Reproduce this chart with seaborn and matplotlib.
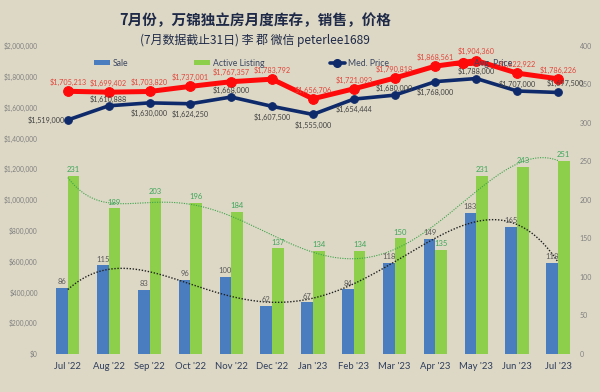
import numpy as np
import pandas as pd
import matplotlib
matplotlib.use("Agg")
import matplotlib.pyplot as plt
from matplotlib.lines import Line2D
from matplotlib.patches import Patch
import seaborn as sns

# ---------------- data ----------------
months = ["Jul '22", "Aug '22", "Sep '22", "Oct '22", "Nov '22", "Dec '22", "Jan '23",
          "Feb '23", "Mar '23", "Apr '23", "May '23", "Jun '23", "Jul '23"]
sale = [86, 115, 83, 96, 100, 62, 67, 84, 118, 149, 183, 165, 118]
listing = [231, 189, 203, 196, 184, 137, 134, 134, 150, 135, 231, 243, 251]
med_price = [1519000, 1610888, 1630000, 1624250, 1668000, 1607500, 1555000,
             1654444, 1680000, 1768000, 1788000, 1707000, 1697500]
avg_price = [1705213, 1699402, 1703820, 1737001, 1767357, 1783792, 1656706,
             1721093, 1790818, 1868561, 1904360, 1822922, 1786226]
left_ticks = list(range(0, 2000001, 200000))
right_ticks = list(range(0, 401, 50))

title = "7月份，万锦独立房月度库存，销售，价格"
subtitle = "(7月数据截止31日) 李 郡 微信 peterlee1689"

# label placement for median price labels (style only)
med_place = ["left", "above", "below", "below", "above", "below", "below",
             "below", "above", "below", "above", "above", "above_right"]

# ---------------- style ----------------
BG = "#DDD8C5"
BLUE = "#4A7DBF"
GREEN = "#8DCF4A"
NAVY = "#0E2A6B"
RED = "#FF0A0A"

sns.set_style("white")
plt.rcParams["font.family"] = ["Lato", "Noto Sans CJK SC", "DejaVu Sans"]

fig = plt.figure(figsize=(6.0, 3.92), dpi=100, facecolor=BG)
ax = fig.add_axes([0.079, 0.097, 0.885, 0.786])
ax2 = ax.twinx()
ax.set_facecolor("none")
ax2.set_facecolor("none")
ax.set_zorder(3)
ax2.set_zorder(2)

x = np.arange(len(months))

# bars (count axis)
df_bars = pd.DataFrame({
    "month": months * 2,
    "count": sale + listing,
    "series": ["Sale"] * len(months) + ["Active Listing"] * len(months),
})
sns.barplot(data=df_bars, x="month", y="count", hue="series",
            palette={"Sale": BLUE, "Active Listing": GREEN},
            width=0.57, gap=0, saturation=1, legend=False, ax=ax2, zorder=2,
            linewidth=0, edgecolor="none")

# polynomial trend lines
xs = np.linspace(0, len(months) - 1, 300)
sale_fit = np.polyval(np.polyfit(x, sale, 4), xs)
list_fit = np.polyval(np.polyfit(x, listing, 6), xs)
sns.lineplot(x=xs, y=sale_fit, ax=ax2, color="#202020", lw=1.0,
             linestyle=(0, (1, 1.2)), zorder=4)
sns.lineplot(x=xs, y=list_fit, ax=ax2, color="#3DA34A", lw=0.8,
             linestyle=(0, (1, 1.2)), zorder=4)

# bar labels
for i in range(len(months)):
    ax2.annotate(f"{sale[i]}", (i - 0.1425, sale[i]), xytext=(0, 4.5),
                 textcoords="offset points", ha="center", va="center",
                 fontsize=5.5, color="#595959", zorder=5)
    ax2.annotate(f"{listing[i]}", (i + 0.1425, listing[i]), xytext=(0, 4.5),
                 textcoords="offset points", ha="center", va="center",
                 fontsize=5.5, color="#3FA55A", zorder=5)

# price lines
sns.lineplot(x=x, y=avg_price, ax=ax, color=RED, lw=3.6, marker="o",
             markersize=7, markeredgecolor=RED, zorder=5)
sns.lineplot(x=x, y=med_price, ax=ax, color=NAVY, lw=2.6, marker="o",
             markersize=5.5, markeredgecolor=NAVY, zorder=6)

for i in range(len(months)):
    ax.annotate(f"${avg_price[i]:,}", (i, avg_price[i]), xytext=(0, 6.5),
                textcoords="offset points", ha="center", va="center",
                fontsize=5.2, color="#E0453A", zorder=7)
    p = med_place[i]
    if p == "left":
        xy, ha = (-2, 0), "right"
    elif p == "above":
        xy, ha = (0, 5), "center"
    elif p == "above_right":
        xy, ha = (5.5, 6.5), "center"
    else:
        xy, ha = (0, -7.5), "center"
    ax.annotate(f"${med_price[i]:,}", (i, med_price[i]), xytext=xy,
                textcoords="offset points", ha=ha, va="center",
                fontsize=5.2, color="#404040", zorder=7)

# axes
ax.set_xlim(-0.5, len(months) - 0.5)
ax.set_ylim(0, 2000000)
ax2.set_ylim(0, 400)
ax.set_yticks(left_ticks, [f"${v:,}" for v in left_ticks])
ax2.set_yticks(right_ticks, [str(v) for v in right_ticks])
ax.set_xticks(x, months)
ax.tick_params(axis="x", length=0, pad=6, labelsize=6.8, labelcolor="#2F3E5C")
ax.tick_params(axis="y", length=0, pad=7, labelsize=4.8, labelcolor="#808080")
ax2.tick_params(axis="y", length=0, pad=1, labelsize=5.0, labelcolor="#808080")
ax2.tick_params(axis="x", length=0)
for a in (ax, ax2):
    a.set_xlabel("")
    a.set_ylabel("")
    a.grid(False)
    for s in a.spines.values():
        s.set_visible(False)

# legend
handles = [
    Patch(facecolor=BLUE, edgecolor="none"),
    Patch(facecolor=GREEN, edgecolor="none"),
    Line2D([], [], color=NAVY, lw=2.6, marker="o", markersize=5.5),
    Line2D([], [], color=RED, lw=3.6, marker="o", markersize=7),
]
fig.legend(handles, ["Sale", "Active Listing", "Med. Price", "Avg. Price"],
           loc="center left", bbox_to_anchor=(0.156, 0.839), ncol=4,
           frameon=False, fontsize=6.2, labelcolor="#3A4560",
           handlelength=1.85, handleheight=0.6, handletextpad=0.35,
           columnspacing=7.6, borderpad=0, borderaxespad=0)

# titles
fig.text(0.425, 0.949, title, ha="center", va="center", fontsize=10.5,
         color="#1F2A48", family=["Noto Sans CJK SC", "DejaVu Sans"],
         weight="bold")
fig.text(0.425, 0.898, subtitle, ha="center", va="center", fontsize=8.6,
         color="#1F2A48", family=["Noto Sans CJK SC", "DejaVu Sans"])

fig.savefig("out.png", dpi=100, facecolor=BG)
